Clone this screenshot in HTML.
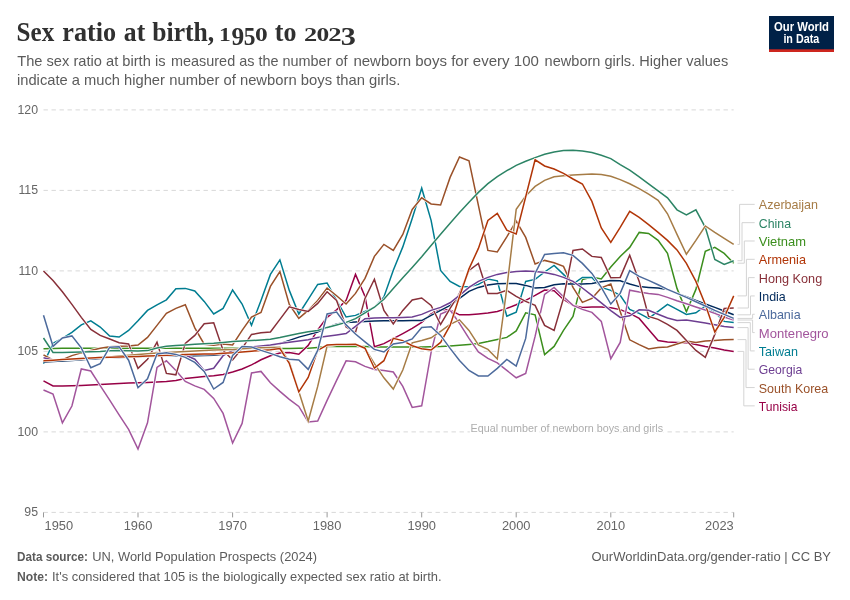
<!DOCTYPE html>
<html lang="en"><head><meta charset="utf-8"><title>Sex ratio at birth, 1950 to 2023</title>
<style>
html,body{margin:0;padding:0;background:#fff;}
body{width:850px;height:600px;overflow:hidden;font-family:"Liberation Sans",sans-serif;}
svg{display:block;}
.t{font-family:"Liberation Serif",serif;font-weight:700;fill:#303030;}
.s{font-family:"Liberation Sans",sans-serif;fill:#5b5b5b;}
.ax{font-family:"Liberation Sans",sans-serif;fill:#666;font-size:12.3px;}
.ft{font-family:"Liberation Sans",sans-serif;fill:#5b5b5b;font-size:12.6px;}
.lg{font-family:"Liberation Sans",sans-serif;font-size:13.4px;}
.ln{fill:none;stroke-width:1.5;stroke-linejoin:miter;stroke-miterlimit:4;stroke-linecap:butt;}
.ol{fill:none;stroke:#fff;stroke-width:2.7;stroke-linejoin:miter;stroke-miterlimit:4;}
.cn{fill:none;stroke:#d4d4d4;stroke-width:1;stroke-linejoin:round;}
</style></head><body>
<svg width="850" height="600" viewBox="0 0 850 600">
<rect width="850" height="600" fill="#fff"/>
<text class="t" font-size="28.2"><tspan x="16.6" y="40.9" textLength="37.6" lengthAdjust="spacingAndGlyphs">Sex</tspan> <tspan x="62.3" y="40.9" textLength="53.9" lengthAdjust="spacingAndGlyphs">ratio</tspan> <tspan x="123.8" y="40.9" textLength="21.4" lengthAdjust="spacingAndGlyphs">at</tspan> <tspan x="152.3" y="40.9" textLength="61.9" lengthAdjust="spacingAndGlyphs">birth,</tspan> <tspan x="219.02" y="40.9" font-size="19.40" textLength="11.76" lengthAdjust="spacingAndGlyphs">1</tspan><tspan x="231.39" y="44.7" font-size="25.67" textLength="12.67" lengthAdjust="spacingAndGlyphs">9</tspan><tspan x="243.86" y="44.7" font-size="25.67" textLength="11.74" lengthAdjust="spacingAndGlyphs">5</tspan><tspan x="254.98" y="40.9" font-size="19.40" textLength="12.74" lengthAdjust="spacingAndGlyphs">0</tspan> <tspan x="274.8" y="40.9" textLength="21.6" lengthAdjust="spacingAndGlyphs">to</tspan> <tspan x="304.14" y="40.9" font-size="19.40" textLength="13.21" lengthAdjust="spacingAndGlyphs">2</tspan><tspan x="316.48" y="40.9" font-size="19.40" textLength="12.74" lengthAdjust="spacingAndGlyphs">0</tspan><tspan x="328.23" y="40.9" font-size="19.40" textLength="13.33" lengthAdjust="spacingAndGlyphs">2</tspan><tspan x="340.79" y="44.7" font-size="25.67" textLength="15.12" lengthAdjust="spacingAndGlyphs">3</tspan></text>
<text class="s" y="66.4" font-size="14.3"><tspan x="17.2" textLength="148.3" lengthAdjust="spacingAndGlyphs">The sex ratio at birth is</tspan> <tspan x="171" textLength="176.5" lengthAdjust="spacingAndGlyphs">measured as the number of</tspan> <tspan x="353.4" textLength="185.5" lengthAdjust="spacingAndGlyphs">newborn boys for every 100</tspan> <tspan x="544.6" textLength="183.6" lengthAdjust="spacingAndGlyphs">newborn girls. Higher values</tspan></text>
<text class="s" y="84.5" font-size="14.3"><tspan x="17" textLength="147.9" lengthAdjust="spacingAndGlyphs">indicate a much higher</tspan> <tspan x="169.2" textLength="231.1" lengthAdjust="spacingAndGlyphs">number of newborn boys than girls.</tspan></text>
<g><rect x="769" y="16" width="65" height="36" fill="#002147"/><rect x="769" y="49.3" width="65" height="2.7" fill="#ce261e"/><text x="774" y="30.6" font-family="Liberation Sans,sans-serif" font-weight="700" font-size="12.3" fill="#fff" textLength="55" lengthAdjust="spacingAndGlyphs">Our World</text><text x="783.4" y="42.8" font-family="Liberation Sans,sans-serif" font-weight="700" font-size="12.3" fill="#fff" textLength="35.8" lengthAdjust="spacingAndGlyphs">in Data</text></g>
<line x1="43.5" x2="733.7" y1="109.9" y2="109.9" stroke="#d8d8d8" stroke-width="1" stroke-dasharray="4.4,3.6"/><text class="ax" x="38" y="113.9" text-anchor="end">120</text>
<line x1="43.5" x2="733.7" y1="190.4" y2="190.4" stroke="#d8d8d8" stroke-width="1" stroke-dasharray="4.4,3.6"/><text class="ax" x="38" y="194.4" text-anchor="end">115</text>
<line x1="43.5" x2="733.7" y1="270.9" y2="270.9" stroke="#d8d8d8" stroke-width="1" stroke-dasharray="4.4,3.6"/><text class="ax" x="38" y="274.9" text-anchor="end">110</text>
<line x1="43.5" x2="733.7" y1="351.4" y2="351.4" stroke="#d8d8d8" stroke-width="1" stroke-dasharray="4.4,3.6"/><text class="ax" x="38" y="355.4" text-anchor="end">105</text>
<line x1="43.5" x2="733.7" y1="431.9" y2="431.9" stroke="#d8d8d8" stroke-width="1" stroke-dasharray="4.4,3.6"/><text class="ax" x="38" y="435.9" text-anchor="end">100</text>
<line x1="43.5" x2="733.7" y1="512.4" y2="512.4" stroke="#d8d8d8" stroke-width="1" stroke-dasharray="4.4,3.6"/><text class="ax" x="38" y="516.4" text-anchor="end">95</text>
<line x1="43.5" x2="43.5" y1="512.4" y2="517.4" stroke="#999" stroke-width="1"/><text class="ax" x="44.5" y="529.8" text-anchor="start" textLength="28.6" lengthAdjust="spacingAndGlyphs">1950</text>
<line x1="138.0" x2="138.0" y1="512.4" y2="517.4" stroke="#999" stroke-width="1"/><text class="ax" x="138.0" y="529.8" text-anchor="middle" textLength="28.6" lengthAdjust="spacingAndGlyphs">1960</text>
<line x1="232.6" x2="232.6" y1="512.4" y2="517.4" stroke="#999" stroke-width="1"/><text class="ax" x="232.6" y="529.8" text-anchor="middle" textLength="28.6" lengthAdjust="spacingAndGlyphs">1970</text>
<line x1="327.1" x2="327.1" y1="512.4" y2="517.4" stroke="#999" stroke-width="1"/><text class="ax" x="327.1" y="529.8" text-anchor="middle" textLength="28.6" lengthAdjust="spacingAndGlyphs">1980</text>
<line x1="421.7" x2="421.7" y1="512.4" y2="517.4" stroke="#999" stroke-width="1"/><text class="ax" x="421.7" y="529.8" text-anchor="middle" textLength="28.6" lengthAdjust="spacingAndGlyphs">1990</text>
<line x1="516.2" x2="516.2" y1="512.4" y2="517.4" stroke="#999" stroke-width="1"/><text class="ax" x="516.2" y="529.8" text-anchor="middle" textLength="28.6" lengthAdjust="spacingAndGlyphs">2000</text>
<line x1="610.8" x2="610.8" y1="512.4" y2="517.4" stroke="#999" stroke-width="1"/><text class="ax" x="610.8" y="529.8" text-anchor="middle" textLength="28.6" lengthAdjust="spacingAndGlyphs">2010</text>
<line x1="733.7" x2="733.7" y1="512.4" y2="517.4" stroke="#999" stroke-width="1"/><text class="ax" x="733.7" y="529.8" text-anchor="end" textLength="28.6" lengthAdjust="spacingAndGlyphs">2023</text>
<text x="470.6" y="432.0" font-family="Liberation Sans,sans-serif" font-size="10.6" fill="#adadad" stroke="#fff" stroke-width="3" paint-order="stroke" textLength="192.5" lengthAdjust="spacingAndGlyphs">Equal number of newborn boys and girls</text>
<polyline class="ol" points="43.5,348.7 53.0,348.4 62.4,348.2 71.9,348.2 81.3,348.2 90.8,348.2 100.2,348.2 109.7,348.3 119.1,348.3 128.6,348.3 138.0,348.3 147.5,348.3 157.0,348.3 166.4,348.3 175.9,348.3 185.3,348.2 194.8,348.2 204.2,348.2 213.7,348.2 223.1,348.2 232.6,348.2 242.1,348.3 251.5,348.4 261.0,348.4 270.4,348.5 279.9,348.6 289.3,348.5 298.8,348.3 308.2,348.2 317.7,347.4 327.1,346.6 336.6,346.5 346.1,346.5 355.5,346.4 365.0,346.6 374.4,346.9 383.9,347.0 393.3,347.0 402.8,347.1 412.2,347.1 421.7,347.1 431.1,346.8 440.6,346.6 450.1,345.9 459.5,345.2 469.0,344.4 478.4,343.4 487.9,341.6 497.3,339.6 506.8,337.4 516.2,330.9 525.7,312.8 535.1,314.8 544.6,354.6 554.1,346.4 563.5,330.4 573.0,316.4 582.4,279.4 591.9,277.0 601.3,279.0 610.8,267.0 620.2,256.4 629.7,247.4 639.2,232.4 648.6,233.4 658.1,240.4 667.5,253.4 677.0,288.4 686.4,311.7 695.9,289.4 705.3,251.4 714.8,247.4 724.2,253.4 733.7,263.2"/><polyline class="ln" stroke="#3B8E1D" points="43.5,348.7 53.0,348.4 62.4,348.2 71.9,348.2 81.3,348.2 90.8,348.2 100.2,348.2 109.7,348.3 119.1,348.3 128.6,348.3 138.0,348.3 147.5,348.3 157.0,348.3 166.4,348.3 175.9,348.3 185.3,348.2 194.8,348.2 204.2,348.2 213.7,348.2 223.1,348.2 232.6,348.2 242.1,348.3 251.5,348.4 261.0,348.4 270.4,348.5 279.9,348.6 289.3,348.5 298.8,348.3 308.2,348.2 317.7,347.4 327.1,346.6 336.6,346.5 346.1,346.5 355.5,346.4 365.0,346.6 374.4,346.9 383.9,347.0 393.3,347.0 402.8,347.1 412.2,347.1 421.7,347.1 431.1,346.8 440.6,346.6 450.1,345.9 459.5,345.2 469.0,344.4 478.4,343.4 487.9,341.6 497.3,339.6 506.8,337.4 516.2,330.9 525.7,312.8 535.1,314.8 544.6,354.6 554.1,346.4 563.5,330.4 573.0,316.4 582.4,279.4 591.9,277.0 601.3,279.0 610.8,267.0 620.2,256.4 629.7,247.4 639.2,232.4 648.6,233.4 658.1,240.4 667.5,253.4 677.0,288.4 686.4,311.7 695.9,289.4 705.3,251.4 714.8,247.4 724.2,253.4 733.7,263.2"/>
<polyline class="ol" points="43.5,380.8 53.0,386.0 62.4,385.9 71.9,385.7 81.3,385.4 90.8,384.9 100.2,384.4 109.7,383.9 119.1,383.4 128.6,383.1 138.0,382.8 147.5,382.4 157.0,382.0 166.4,381.4 175.9,380.4 185.3,378.4 194.8,377.4 204.2,376.4 213.7,375.8 223.1,374.4 232.6,372.0 242.1,369.0 251.5,364.9 261.0,359.8 270.4,355.7 279.9,353.0 289.3,352.6 298.8,354.2 308.2,345.4 317.7,329.9 327.1,317.4 336.6,309.9 346.1,300.4 355.5,274.4 365.0,296.4 374.4,346.8 383.9,343.6 393.3,338.6 402.8,333.6 412.2,328.4 421.7,322.4 431.1,314.0 440.6,309.4 450.1,310.0 459.5,314.8 469.0,314.8 478.4,314.0 487.9,313.0 497.3,311.4 506.8,308.4 516.2,304.8 525.7,300.4 535.1,295.4 544.6,290.0 554.1,290.8 563.5,299.4 573.0,305.4 582.4,307.4 591.9,307.0 601.3,307.0 610.8,307.8 620.2,309.6 629.7,313.4 639.2,318.4 648.6,329.4 658.1,340.6 667.5,342.0 677.0,342.4 686.4,342.8 695.9,344.4 705.3,346.4 714.8,348.0 724.2,350.0 733.7,351.4"/><polyline class="ln" stroke="#970046" points="43.5,380.8 53.0,386.0 62.4,385.9 71.9,385.7 81.3,385.4 90.8,384.9 100.2,384.4 109.7,383.9 119.1,383.4 128.6,383.1 138.0,382.8 147.5,382.4 157.0,382.0 166.4,381.4 175.9,380.4 185.3,378.4 194.8,377.4 204.2,376.4 213.7,375.8 223.1,374.4 232.6,372.0 242.1,369.0 251.5,364.9 261.0,359.8 270.4,355.7 279.9,353.0 289.3,352.6 298.8,354.2 308.2,345.4 317.7,329.9 327.1,317.4 336.6,309.9 346.1,300.4 355.5,274.4 365.0,296.4 374.4,346.8 383.9,343.6 393.3,338.6 402.8,333.6 412.2,328.4 421.7,322.4 431.1,314.0 440.6,309.4 450.1,310.0 459.5,314.8 469.0,314.8 478.4,314.0 487.9,313.0 497.3,311.4 506.8,308.4 516.2,304.8 525.7,300.4 535.1,295.4 544.6,290.0 554.1,290.8 563.5,299.4 573.0,305.4 582.4,307.4 591.9,307.0 601.3,307.0 610.8,307.8 620.2,309.6 629.7,313.4 639.2,318.4 648.6,329.4 658.1,340.6 667.5,342.0 677.0,342.4 686.4,342.8 695.9,344.4 705.3,346.4 714.8,348.0 724.2,350.0 733.7,351.4"/>
<polyline class="ol" points="43.5,363.8 53.0,343.4 62.4,338.4 71.9,332.4 81.3,324.8 90.8,320.8 100.2,327.0 109.7,336.0 119.1,337.0 128.6,330.4 138.0,320.8 147.5,310.4 157.0,304.8 166.4,299.8 175.9,288.8 185.3,288.4 194.8,291.0 204.2,301.4 213.7,314.0 223.1,308.4 232.6,290.0 242.1,304.0 251.5,325.3 261.0,300.4 270.4,274.4 279.9,259.9 289.3,290.4 298.8,314.0 308.2,299.4 317.7,284.4 327.1,283.0 336.6,300.4 346.1,317.0 355.5,315.4 365.0,311.4 374.4,307.4 383.9,296.9 393.3,270.2 402.8,246.9 412.2,218.4 421.7,188.2 431.1,220.4 440.6,270.4 450.1,281.4 459.5,286.4 469.0,286.8 478.4,284.4 487.9,279.0 497.3,280.8 506.8,316.2 516.2,312.2 525.7,281.4 535.1,279.4 544.6,272.0 554.1,265.4 563.5,274.4 573.0,284.0 582.4,277.4 591.9,277.4 601.3,287.4 610.8,290.4 620.2,295.4 629.7,309.4 639.2,313.4 648.6,318.4 658.1,311.4 667.5,304.4 677.0,309.4 686.4,314.4 695.9,312.8 705.3,306.0 714.8,312.4 724.2,321.4 733.7,322.6"/><polyline class="ln" stroke="#007D91" points="43.5,363.8 53.0,343.4 62.4,338.4 71.9,332.4 81.3,324.8 90.8,320.8 100.2,327.0 109.7,336.0 119.1,337.0 128.6,330.4 138.0,320.8 147.5,310.4 157.0,304.8 166.4,299.8 175.9,288.8 185.3,288.4 194.8,291.0 204.2,301.4 213.7,314.0 223.1,308.4 232.6,290.0 242.1,304.0 251.5,325.3 261.0,300.4 270.4,274.4 279.9,259.9 289.3,290.4 298.8,314.0 308.2,299.4 317.7,284.4 327.1,283.0 336.6,300.4 346.1,317.0 355.5,315.4 365.0,311.4 374.4,307.4 383.9,296.9 393.3,270.2 402.8,246.9 412.2,218.4 421.7,188.2 431.1,220.4 440.6,270.4 450.1,281.4 459.5,286.4 469.0,286.8 478.4,284.4 487.9,279.0 497.3,280.8 506.8,316.2 516.2,312.2 525.7,281.4 535.1,279.4 544.6,272.0 554.1,265.4 563.5,274.4 573.0,284.0 582.4,277.4 591.9,277.4 601.3,287.4 610.8,290.4 620.2,295.4 629.7,309.4 639.2,313.4 648.6,318.4 658.1,311.4 667.5,304.4 677.0,309.4 686.4,314.4 695.9,312.8 705.3,306.0 714.8,312.4 724.2,321.4 733.7,322.6"/>
<polyline class="ol" points="43.5,355.0 53.0,359.8 62.4,359.7 71.9,355.6 81.3,352.9 90.8,350.4 100.2,348.2 109.7,346.7 119.1,346.2 128.6,346.0 138.0,345.0 147.5,337.4 157.0,325.4 166.4,313.4 175.9,308.4 185.3,304.8 194.8,327.9 204.2,344.2 213.7,345.2 223.1,344.0 232.6,345.0 242.1,330.4 251.5,317.0 261.0,312.4 270.4,286.4 279.9,271.6 289.3,304.4 298.8,318.4 308.2,310.4 317.7,300.4 327.1,288.0 336.6,295.7 346.1,304.0 355.5,293.4 365.0,278.4 374.4,256.4 383.9,244.4 393.3,250.4 402.8,234.4 412.2,209.4 421.7,197.8 431.1,204.0 440.6,205.0 450.1,177.4 459.5,157.0 469.0,160.8 478.4,205.4 487.9,250.4 497.3,252.0 506.8,236.9 516.2,221.1 525.7,237.4 535.1,264.0 544.6,260.4 554.1,262.8 563.5,266.4 573.0,287.4 582.4,302.4 591.9,298.4 601.3,287.9 610.8,284.0 620.2,311.4 629.7,339.8 639.2,344.6 648.6,349.0 658.1,347.6 667.5,346.9 677.0,344.0 686.4,341.0 695.9,342.4 705.3,341.0 714.8,340.4 724.2,339.8 733.7,339.6"/><polyline class="ln" stroke="#9A5129" points="43.5,355.0 53.0,359.8 62.4,359.7 71.9,355.6 81.3,352.9 90.8,350.4 100.2,348.2 109.7,346.7 119.1,346.2 128.6,346.0 138.0,345.0 147.5,337.4 157.0,325.4 166.4,313.4 175.9,308.4 185.3,304.8 194.8,327.9 204.2,344.2 213.7,345.2 223.1,344.0 232.6,345.0 242.1,330.4 251.5,317.0 261.0,312.4 270.4,286.4 279.9,271.6 289.3,304.4 298.8,318.4 308.2,310.4 317.7,300.4 327.1,288.0 336.6,295.7 346.1,304.0 355.5,293.4 365.0,278.4 374.4,256.4 383.9,244.4 393.3,250.4 402.8,234.4 412.2,209.4 421.7,197.8 431.1,204.0 440.6,205.0 450.1,177.4 459.5,157.0 469.0,160.8 478.4,205.4 487.9,250.4 497.3,252.0 506.8,236.9 516.2,221.1 525.7,237.4 535.1,264.0 544.6,260.4 554.1,262.8 563.5,266.4 573.0,287.4 582.4,302.4 591.9,298.4 601.3,287.9 610.8,284.0 620.2,311.4 629.7,339.8 639.2,344.6 648.6,349.0 658.1,347.6 667.5,346.9 677.0,344.0 686.4,341.0 695.9,342.4 705.3,341.0 714.8,340.4 724.2,339.8 733.7,339.6"/>
<polyline class="ol" points="43.5,390.0 53.0,394.0 62.4,422.8 71.9,406.0 81.3,369.0 90.8,371.0 100.2,385.6 109.7,400.2 119.1,414.8 128.6,429.4 138.0,449.1 147.5,422.8 157.0,367.4 166.4,360.8 175.9,370.4 185.3,381.4 194.8,385.9 204.2,389.4 213.7,398.4 223.1,413.4 232.6,443.0 242.1,423.4 251.5,373.0 261.0,371.4 270.4,382.8 279.9,391.4 289.3,399.4 298.8,406.4 308.2,422.0 317.7,421.0 327.1,400.4 336.6,380.4 346.1,360.8 355.5,361.8 365.0,366.4 374.4,369.4 383.9,370.4 393.3,372.0 402.8,386.4 412.2,407.4 421.7,405.8 431.1,352.4 440.6,314.0 450.1,310.0 459.5,323.4 469.0,338.4 478.4,351.9 487.9,358.4 497.3,362.9 506.8,370.4 516.2,377.8 525.7,373.4 535.1,336.4 544.6,294.4 554.1,287.4 563.5,296.8 573.0,305.4 582.4,309.4 591.9,312.4 601.3,321.4 610.8,358.7 620.2,342.4 629.7,290.2 639.2,292.0 648.6,293.4 658.1,294.4 667.5,297.4 677.0,300.8 686.4,303.8 695.9,307.0 705.3,310.0 714.8,313.4 724.2,317.0 733.7,320.0"/><polyline class="ln" stroke="#A2559C" points="43.5,390.0 53.0,394.0 62.4,422.8 71.9,406.0 81.3,369.0 90.8,371.0 100.2,385.6 109.7,400.2 119.1,414.8 128.6,429.4 138.0,449.1 147.5,422.8 157.0,367.4 166.4,360.8 175.9,370.4 185.3,381.4 194.8,385.9 204.2,389.4 213.7,398.4 223.1,413.4 232.6,443.0 242.1,423.4 251.5,373.0 261.0,371.4 270.4,382.8 279.9,391.4 289.3,399.4 298.8,406.4 308.2,422.0 317.7,421.0 327.1,400.4 336.6,380.4 346.1,360.8 355.5,361.8 365.0,366.4 374.4,369.4 383.9,370.4 393.3,372.0 402.8,386.4 412.2,407.4 421.7,405.8 431.1,352.4 440.6,314.0 450.1,310.0 459.5,323.4 469.0,338.4 478.4,351.9 487.9,358.4 497.3,362.9 506.8,370.4 516.2,377.8 525.7,373.4 535.1,336.4 544.6,294.4 554.1,287.4 563.5,296.8 573.0,305.4 582.4,309.4 591.9,312.4 601.3,321.4 610.8,358.7 620.2,342.4 629.7,290.2 639.2,292.0 648.6,293.4 658.1,294.4 667.5,297.4 677.0,300.8 686.4,303.8 695.9,307.0 705.3,310.0 714.8,313.4 724.2,317.0 733.7,320.0"/>
<polyline class="ol" points="43.5,361.9 53.0,361.4 62.4,360.9 71.9,360.4 81.3,359.8 90.8,359.1 100.2,358.4 109.7,357.8 119.1,357.5 128.6,357.3 138.0,357.0 147.5,356.6 157.0,356.3 166.4,356.0 175.9,355.8 185.3,355.9 194.8,355.7 204.2,355.5 213.7,355.3 223.1,354.2 232.6,351.4 242.1,348.8 251.5,347.1 261.0,346.0 270.4,345.0 279.9,343.8 289.3,340.4 298.8,337.1 308.2,334.6 317.7,332.0 327.1,327.4 336.6,323.9 346.1,322.6 355.5,322.1 365.0,321.4 374.4,321.1 383.9,320.8 393.3,320.8 402.8,320.7 412.2,320.6 421.7,320.6 431.1,315.4 440.6,310.4 450.1,305.4 459.5,298.4 469.0,291.4 478.4,287.4 487.9,285.0 497.3,283.8 506.8,283.4 516.2,283.4 525.7,285.4 535.1,288.0 544.6,287.4 554.1,284.8 563.5,283.8 573.0,284.0 582.4,284.0 591.9,283.4 601.3,281.8 610.8,280.4 620.2,280.8 629.7,284.0 639.2,286.6 648.6,287.4 658.1,288.0 667.5,289.6 677.0,293.4 686.4,296.8 695.9,300.4 705.3,304.0 714.8,307.4 724.2,311.0 733.7,314.8"/><polyline class="ln" stroke="#00295B" points="43.5,361.9 53.0,361.4 62.4,360.9 71.9,360.4 81.3,359.8 90.8,359.1 100.2,358.4 109.7,357.8 119.1,357.5 128.6,357.3 138.0,357.0 147.5,356.6 157.0,356.3 166.4,356.0 175.9,355.8 185.3,355.9 194.8,355.7 204.2,355.5 213.7,355.3 223.1,354.2 232.6,351.4 242.1,348.8 251.5,347.1 261.0,346.0 270.4,345.0 279.9,343.8 289.3,340.4 298.8,337.1 308.2,334.6 317.7,332.0 327.1,327.4 336.6,323.9 346.1,322.6 355.5,322.1 365.0,321.4 374.4,321.1 383.9,320.8 393.3,320.8 402.8,320.7 412.2,320.6 421.7,320.6 431.1,315.4 440.6,310.4 450.1,305.4 459.5,298.4 469.0,291.4 478.4,287.4 487.9,285.0 497.3,283.8 506.8,283.4 516.2,283.4 525.7,285.4 535.1,288.0 544.6,287.4 554.1,284.8 563.5,283.8 573.0,284.0 582.4,284.0 591.9,283.4 601.3,281.8 610.8,280.4 620.2,280.8 629.7,284.0 639.2,286.6 648.6,287.4 658.1,288.0 667.5,289.6 677.0,293.4 686.4,296.8 695.9,300.4 705.3,304.0 714.8,307.4 724.2,311.0 733.7,314.8"/>
<polyline class="ol" points="43.5,271.0 53.0,280.4 62.4,291.8 71.9,304.4 81.3,317.4 90.8,329.4 100.2,335.4 109.7,339.0 119.1,342.8 128.6,344.0 138.0,368.4 147.5,359.4 157.0,342.1 166.4,373.4 175.9,374.8 185.3,343.4 194.8,335.4 204.2,323.8 213.7,322.8 223.1,350.4 232.6,360.0 242.1,348.4 251.5,334.4 261.0,332.8 270.4,332.0 279.9,319.4 289.3,306.8 298.8,309.4 308.2,311.4 317.7,303.4 327.1,291.8 336.6,300.4 346.1,326.9 355.5,332.4 365.0,298.4 374.4,279.2 383.9,310.4 393.3,324.0 402.8,310.4 412.2,300.0 421.7,298.0 431.1,305.4 440.6,324.5 450.1,308.4 459.5,293.4 469.0,270.4 478.4,263.4 487.9,293.4 497.3,293.4 506.8,290.4 516.2,296.4 525.7,301.4 535.1,305.4 544.6,325.4 554.1,330.4 563.5,298.4 573.0,250.4 582.4,249.0 591.9,256.4 601.3,257.4 610.8,277.8 620.2,277.4 629.7,255.2 639.2,281.4 648.6,316.4 658.1,319.4 667.5,324.4 677.0,330.4 686.4,340.4 695.9,350.4 705.3,357.4 714.8,334.4 724.2,308.4 733.7,308.0"/><polyline class="ln" stroke="#883039" points="43.5,271.0 53.0,280.4 62.4,291.8 71.9,304.4 81.3,317.4 90.8,329.4 100.2,335.4 109.7,339.0 119.1,342.8 128.6,344.0 138.0,368.4 147.5,359.4 157.0,342.1 166.4,373.4 175.9,374.8 185.3,343.4 194.8,335.4 204.2,323.8 213.7,322.8 223.1,350.4 232.6,360.0 242.1,348.4 251.5,334.4 261.0,332.8 270.4,332.0 279.9,319.4 289.3,306.8 298.8,309.4 308.2,311.4 317.7,303.4 327.1,291.8 336.6,300.4 346.1,326.9 355.5,332.4 365.0,298.4 374.4,279.2 383.9,310.4 393.3,324.0 402.8,310.4 412.2,300.0 421.7,298.0 431.1,305.4 440.6,324.5 450.1,308.4 459.5,293.4 469.0,270.4 478.4,263.4 487.9,293.4 497.3,293.4 506.8,290.4 516.2,296.4 525.7,301.4 535.1,305.4 544.6,325.4 554.1,330.4 563.5,298.4 573.0,250.4 582.4,249.0 591.9,256.4 601.3,257.4 610.8,277.8 620.2,277.4 629.7,255.2 639.2,281.4 648.6,316.4 658.1,319.4 667.5,324.4 677.0,330.4 686.4,340.4 695.9,350.4 705.3,357.4 714.8,334.4 724.2,308.4 733.7,308.0"/>
<polyline class="ol" points="43.5,357.8 53.0,360.0 62.4,359.5 71.9,359.1 81.3,358.6 90.8,358.0 100.2,357.5 109.7,357.3 119.1,357.0 128.6,356.8 138.0,356.5 147.5,356.1 157.0,355.8 166.4,355.4 175.9,355.0 185.3,355.0 194.8,359.2 204.2,370.4 213.7,368.3 223.1,355.7 232.6,350.4 242.1,348.6 251.5,346.9 261.0,345.9 270.4,344.9 279.9,343.5 289.3,342.2 298.8,341.0 308.2,339.8 317.7,337.4 327.1,336.2 336.6,335.0 346.1,333.6 355.5,326.4 365.0,318.7 374.4,317.9 383.9,317.8 393.3,317.8 402.8,317.4 412.2,317.0 421.7,314.4 431.1,310.4 440.6,307.4 450.1,302.8 459.5,295.4 469.0,287.4 478.4,281.4 487.9,277.4 497.3,274.4 506.8,272.6 516.2,271.4 525.7,271.0 535.1,271.4 544.6,272.4 554.1,274.4 563.5,277.4 573.0,281.4 582.4,288.0 591.9,295.4 601.3,302.9 610.8,310.6 620.2,317.4 629.7,315.8 639.2,309.8 648.6,310.2 658.1,314.2 667.5,318.0 677.0,320.4 686.4,320.0 695.9,321.4 705.3,323.0 714.8,324.8 724.2,326.4 733.7,327.6"/><polyline class="ln" stroke="#6D3E91" points="43.5,357.8 53.0,360.0 62.4,359.5 71.9,359.1 81.3,358.6 90.8,358.0 100.2,357.5 109.7,357.3 119.1,357.0 128.6,356.8 138.0,356.5 147.5,356.1 157.0,355.8 166.4,355.4 175.9,355.0 185.3,355.0 194.8,359.2 204.2,370.4 213.7,368.3 223.1,355.7 232.6,350.4 242.1,348.6 251.5,346.9 261.0,345.9 270.4,344.9 279.9,343.5 289.3,342.2 298.8,341.0 308.2,339.8 317.7,337.4 327.1,336.2 336.6,335.0 346.1,333.6 355.5,326.4 365.0,318.7 374.4,317.9 383.9,317.8 393.3,317.8 402.8,317.4 412.2,317.0 421.7,314.4 431.1,310.4 440.6,307.4 450.1,302.8 459.5,295.4 469.0,287.4 478.4,281.4 487.9,277.4 497.3,274.4 506.8,272.6 516.2,271.4 525.7,271.0 535.1,271.4 544.6,272.4 554.1,274.4 563.5,277.4 573.0,281.4 582.4,288.0 591.9,295.4 601.3,302.9 610.8,310.6 620.2,317.4 629.7,315.8 639.2,309.8 648.6,310.2 658.1,314.2 667.5,318.0 677.0,320.4 686.4,320.0 695.9,321.4 705.3,323.0 714.8,324.8 724.2,326.4 733.7,327.6"/>
<polyline class="ol" points="43.5,338.0 53.0,352.5 62.4,352.4 71.9,352.2 81.3,351.9 90.8,351.7 100.2,351.4 109.7,350.8 119.1,350.6 128.6,350.7 138.0,351.1 147.5,350.6 157.0,348.0 166.4,346.3 175.9,345.6 185.3,345.0 194.8,344.3 204.2,343.8 213.7,343.3 223.1,342.4 232.6,341.6 242.1,341.1 251.5,340.6 261.0,339.9 270.4,339.2 279.9,337.4 289.3,335.4 298.8,333.6 308.2,331.8 317.7,330.4 327.1,327.4 336.6,324.9 346.1,322.4 355.5,318.6 365.0,312.8 374.4,307.2 383.9,299.2 393.3,288.6 402.8,277.7 412.2,267.4 421.7,256.7 431.1,245.5 440.6,234.2 450.1,223.2 459.5,212.6 469.0,202.2 478.4,192.4 487.9,183.6 497.3,176.6 506.8,170.7 516.2,165.4 525.7,161.3 535.1,157.6 544.6,154.3 554.1,151.9 563.5,150.6 573.0,150.2 582.4,150.9 591.9,152.6 601.3,155.2 610.8,158.6 620.2,164.6 629.7,170.2 639.2,176.9 648.6,183.9 658.1,190.9 667.5,197.9 677.0,209.8 686.4,215.0 695.9,209.8 705.3,227.4 714.8,259.4 724.2,264.4 733.7,260.7"/><polyline class="ln" stroke="#2C8465" points="43.5,338.0 53.0,352.5 62.4,352.4 71.9,352.2 81.3,351.9 90.8,351.7 100.2,351.4 109.7,350.8 119.1,350.6 128.6,350.7 138.0,351.1 147.5,350.6 157.0,348.0 166.4,346.3 175.9,345.6 185.3,345.0 194.8,344.3 204.2,343.8 213.7,343.3 223.1,342.4 232.6,341.6 242.1,341.1 251.5,340.6 261.0,339.9 270.4,339.2 279.9,337.4 289.3,335.4 298.8,333.6 308.2,331.8 317.7,330.4 327.1,327.4 336.6,324.9 346.1,322.4 355.5,318.6 365.0,312.8 374.4,307.2 383.9,299.2 393.3,288.6 402.8,277.7 412.2,267.4 421.7,256.7 431.1,245.5 440.6,234.2 450.1,223.2 459.5,212.6 469.0,202.2 478.4,192.4 487.9,183.6 497.3,176.6 506.8,170.7 516.2,165.4 525.7,161.3 535.1,157.6 544.6,154.3 554.1,151.9 563.5,150.6 573.0,150.2 582.4,150.9 591.9,152.6 601.3,155.2 610.8,158.6 620.2,164.6 629.7,170.2 639.2,176.9 648.6,183.9 658.1,190.9 667.5,197.9 677.0,209.8 686.4,215.0 695.9,209.8 705.3,227.4 714.8,259.4 724.2,264.4 733.7,260.7"/>
<polyline class="ol" points="43.5,360.7 53.0,360.2 62.4,359.6 71.9,359.1 81.3,358.6 90.8,358.0 100.2,357.5 109.7,357.1 119.1,356.1 128.6,355.2 138.0,354.4 147.5,353.8 157.0,353.0 166.4,352.5 175.9,352.1 185.3,351.6 194.8,351.1 204.2,350.6 213.7,350.1 223.1,349.8 232.6,349.4 242.1,348.8 251.5,348.3 261.0,347.8 270.4,347.4 279.9,347.2 289.3,361.8 298.8,391.6 308.2,421.0 317.7,386.4 327.1,346.0 336.6,344.7 346.1,344.5 355.5,344.3 365.0,348.4 374.4,363.7 383.9,377.8 393.3,389.1 402.8,370.0 412.2,342.8 421.7,340.4 431.1,337.8 440.6,331.4 450.1,324.4 459.5,319.8 469.0,330.4 478.4,345.0 487.9,349.4 497.3,359.0 506.8,288.4 516.2,209.4 525.7,196.0 535.1,186.4 544.6,180.4 554.1,176.8 563.5,175.8 573.0,175.0 582.4,174.4 591.9,174.0 601.3,174.4 610.8,176.2 620.2,179.6 629.7,183.8 639.2,188.7 648.6,194.2 658.1,200.4 667.5,213.8 677.0,234.4 686.4,254.2 695.9,240.4 705.3,226.0 714.8,232.4 724.2,238.4 733.7,244.4"/><polyline class="ln" stroke="#A67C46" points="43.5,360.7 53.0,360.2 62.4,359.6 71.9,359.1 81.3,358.6 90.8,358.0 100.2,357.5 109.7,357.1 119.1,356.1 128.6,355.2 138.0,354.4 147.5,353.8 157.0,353.0 166.4,352.5 175.9,352.1 185.3,351.6 194.8,351.1 204.2,350.6 213.7,350.1 223.1,349.8 232.6,349.4 242.1,348.8 251.5,348.3 261.0,347.8 270.4,347.4 279.9,347.2 289.3,361.8 298.8,391.6 308.2,421.0 317.7,386.4 327.1,346.0 336.6,344.7 346.1,344.5 355.5,344.3 365.0,348.4 374.4,363.7 383.9,377.8 393.3,389.1 402.8,370.0 412.2,342.8 421.7,340.4 431.1,337.8 440.6,331.4 450.1,324.4 459.5,319.8 469.0,330.4 478.4,345.0 487.9,349.4 497.3,359.0 506.8,288.4 516.2,209.4 525.7,196.0 535.1,186.4 544.6,180.4 554.1,176.8 563.5,175.8 573.0,175.0 582.4,174.4 591.9,174.0 601.3,174.4 610.8,176.2 620.2,179.6 629.7,183.8 639.2,188.7 648.6,194.2 658.1,200.4 667.5,213.8 677.0,234.4 686.4,254.2 695.9,240.4 705.3,226.0 714.8,232.4 724.2,238.4 733.7,244.4"/>
<polyline class="ol" points="43.5,360.7 53.0,360.2 62.4,359.6 71.9,359.1 81.3,358.6 90.8,358.0 100.2,357.5 109.7,357.3 119.1,357.0 128.6,356.8 138.0,356.5 147.5,356.1 157.0,355.8 166.4,355.3 175.9,354.9 185.3,354.4 194.8,354.2 204.2,354.1 213.7,353.9 223.1,353.3 232.6,352.8 242.1,352.0 251.5,351.2 261.0,350.5 270.4,349.8 279.9,348.6 289.3,363.4 298.8,391.9 308.2,377.4 317.7,350.4 327.1,345.1 336.6,344.6 346.1,344.4 355.5,344.2 365.0,348.2 374.4,368.2 383.9,360.7 393.3,338.3 402.8,340.6 412.2,345.7 421.7,348.8 431.1,350.0 440.6,342.4 450.1,325.4 459.5,296.4 469.0,268.9 478.4,248.4 487.9,220.4 497.3,213.4 506.8,230.2 516.2,234.0 525.7,196.8 535.1,159.8 544.6,166.0 554.1,169.0 563.5,173.4 573.0,179.0 582.4,184.0 591.9,201.4 601.3,228.0 610.8,242.3 620.2,227.4 629.7,211.4 639.2,217.4 648.6,224.6 658.1,232.4 667.5,240.4 677.0,249.9 686.4,263.4 695.9,281.4 705.3,304.4 714.8,332.0 724.2,317.4 733.7,295.9"/><polyline class="ln" stroke="#B13507" points="43.5,360.7 53.0,360.2 62.4,359.6 71.9,359.1 81.3,358.6 90.8,358.0 100.2,357.5 109.7,357.3 119.1,357.0 128.6,356.8 138.0,356.5 147.5,356.1 157.0,355.8 166.4,355.3 175.9,354.9 185.3,354.4 194.8,354.2 204.2,354.1 213.7,353.9 223.1,353.3 232.6,352.8 242.1,352.0 251.5,351.2 261.0,350.5 270.4,349.8 279.9,348.6 289.3,363.4 298.8,391.9 308.2,377.4 317.7,350.4 327.1,345.1 336.6,344.6 346.1,344.4 355.5,344.2 365.0,348.2 374.4,368.2 383.9,360.7 393.3,338.3 402.8,340.6 412.2,345.7 421.7,348.8 431.1,350.0 440.6,342.4 450.1,325.4 459.5,296.4 469.0,268.9 478.4,248.4 487.9,220.4 497.3,213.4 506.8,230.2 516.2,234.0 525.7,196.8 535.1,159.8 544.6,166.0 554.1,169.0 563.5,173.4 573.0,179.0 582.4,184.0 591.9,201.4 601.3,228.0 610.8,242.3 620.2,227.4 629.7,211.4 639.2,217.4 648.6,224.6 658.1,232.4 667.5,240.4 677.0,249.9 686.4,263.4 695.9,281.4 705.3,304.4 714.8,332.0 724.2,317.4 733.7,295.9"/>
<polyline class="ol" points="43.5,315.3 53.0,346.3 62.4,337.9 71.9,335.9 81.3,347.9 90.8,367.8 100.2,363.6 109.7,347.2 119.1,346.7 128.6,360.2 138.0,387.7 147.5,378.8 157.0,354.0 166.4,352.8 175.9,354.4 185.3,357.4 194.8,362.4 204.2,371.4 213.7,389.0 223.1,382.4 232.6,355.4 242.1,346.4 251.5,347.0 261.0,350.4 270.4,353.4 279.9,356.7 289.3,359.2 298.8,359.9 308.2,369.4 317.7,350.4 327.1,314.0 336.6,312.0 346.1,324.9 355.5,334.0 365.0,341.8 374.4,349.4 383.9,352.0 393.3,343.9 402.8,342.4 412.2,338.9 421.7,327.4 431.1,326.8 440.6,335.4 450.1,348.4 459.5,360.4 469.0,370.4 478.4,376.0 487.9,376.0 497.3,368.4 506.8,359.4 516.2,366.0 525.7,338.4 535.1,273.4 544.6,254.4 554.1,253.4 563.5,252.8 573.0,255.4 582.4,263.4 591.9,273.4 601.3,287.4 610.8,304.0 620.2,293.4 629.7,270.7 639.2,276.4 648.6,280.4 658.1,284.8 667.5,289.4 677.0,293.4 686.4,297.4 695.9,301.8 705.3,306.0 714.8,310.4 724.2,314.4 733.7,318.4"/><polyline class="ln" stroke="#4C6A9C" points="43.5,315.3 53.0,346.3 62.4,337.9 71.9,335.9 81.3,347.9 90.8,367.8 100.2,363.6 109.7,347.2 119.1,346.7 128.6,360.2 138.0,387.7 147.5,378.8 157.0,354.0 166.4,352.8 175.9,354.4 185.3,357.4 194.8,362.4 204.2,371.4 213.7,389.0 223.1,382.4 232.6,355.4 242.1,346.4 251.5,347.0 261.0,350.4 270.4,353.4 279.9,356.7 289.3,359.2 298.8,359.9 308.2,369.4 317.7,350.4 327.1,314.0 336.6,312.0 346.1,324.9 355.5,334.0 365.0,341.8 374.4,349.4 383.9,352.0 393.3,343.9 402.8,342.4 412.2,338.9 421.7,327.4 431.1,326.8 440.6,335.4 450.1,348.4 459.5,360.4 469.0,370.4 478.4,376.0 487.9,376.0 497.3,368.4 506.8,359.4 516.2,366.0 525.7,338.4 535.1,273.4 544.6,254.4 554.1,253.4 563.5,252.8 573.0,255.4 582.4,263.4 591.9,273.4 601.3,287.4 610.8,304.0 620.2,293.4 629.7,270.7 639.2,276.4 648.6,280.4 658.1,284.8 667.5,289.4 677.0,293.4 686.4,297.4 695.9,301.8 705.3,306.0 714.8,310.4 724.2,314.4 733.7,318.4"/>
<path class="cn" d="M737.5,244.4H739.6V204.35H754.7"/><text class="lg" x="758.8" y="209.3" fill="#A67C46" textLength="59.2" lengthAdjust="spacingAndGlyphs">Azerbaijan</text>
<path class="cn" d="M737.5,260.7H742.0V222.67H754.7"/><text class="lg" x="758.8" y="227.7" fill="#2C8465" textLength="32.2" lengthAdjust="spacingAndGlyphs">China</text>
<path class="cn" d="M737.5,263.2H744.3V240.99H754.7"/><text class="lg" x="758.8" y="246.0" fill="#3B8E1D" textLength="47.2" lengthAdjust="spacingAndGlyphs">Vietnam</text>
<path class="cn" d="M737.5,295.9H746.4V259.31H754.7"/><text class="lg" x="758.8" y="264.3" fill="#B13507" textLength="47.2" lengthAdjust="spacingAndGlyphs">Armenia</text>
<path class="cn" d="M737.5,308.0H748.4V277.63H754.7"/><text class="lg" x="758.8" y="282.6" fill="#883039" textLength="63.4" lengthAdjust="spacingAndGlyphs">Hong Kong</text>
<path class="cn" d="M737.5,314.8H750.5V295.95H754.7"/><text class="lg" x="758.8" y="300.9" fill="#00295B" textLength="27" lengthAdjust="spacingAndGlyphs">India</text>
<path class="cn" d="M737.5,318.4H752.6V314.27H754.7"/><text class="lg" x="758.8" y="319.3" fill="#4C6A9C" textLength="41.8" lengthAdjust="spacingAndGlyphs">Albania</text>
<path class="cn" d="M737.5,320.0H752.6V332.59H754.7"/><text class="lg" x="758.8" y="337.6" fill="#A2559C" textLength="69.8" lengthAdjust="spacingAndGlyphs">Montenegro</text>
<path class="cn" d="M737.5,322.6H750.3V350.91H754.7"/><text class="lg" x="758.8" y="355.9" fill="#007D91" textLength="39.2" lengthAdjust="spacingAndGlyphs">Taiwan</text>
<path class="cn" d="M737.5,327.6H748.1V369.23H754.7"/><text class="lg" x="758.8" y="374.2" fill="#6D3E91" textLength="43.4" lengthAdjust="spacingAndGlyphs">Georgia</text>
<path class="cn" d="M737.5,339.6H746.0V387.55H754.7"/><text class="lg" x="758.8" y="392.6" fill="#9A5129" textLength="69.4" lengthAdjust="spacingAndGlyphs">South Korea</text>
<path class="cn" d="M737.5,351.4H743.8V405.87H754.7"/><text class="lg" x="758.8" y="410.9" fill="#970046" textLength="38.6" lengthAdjust="spacingAndGlyphs">Tunisia</text>
<text class="ft" y="560.7"><tspan x="17" font-weight="700" textLength="71" lengthAdjust="spacingAndGlyphs">Data source:</tspan> <tspan x="92.3" textLength="224.7" lengthAdjust="spacingAndGlyphs">UN, World Population Prospects (2024)</tspan></text>
<text class="ft" y="580.7"><tspan x="17" font-weight="700" textLength="31" lengthAdjust="spacingAndGlyphs">Note:</tspan> <tspan x="52" textLength="389.5" lengthAdjust="spacingAndGlyphs">It's considered that 105 is the biologically expected sex ratio at birth.</tspan></text>
<text class="ft" x="591.5" y="560.7" textLength="239.5" lengthAdjust="spacingAndGlyphs">OurWorldinData.org/gender-ratio | CC BY</text>
</svg></body></html>
